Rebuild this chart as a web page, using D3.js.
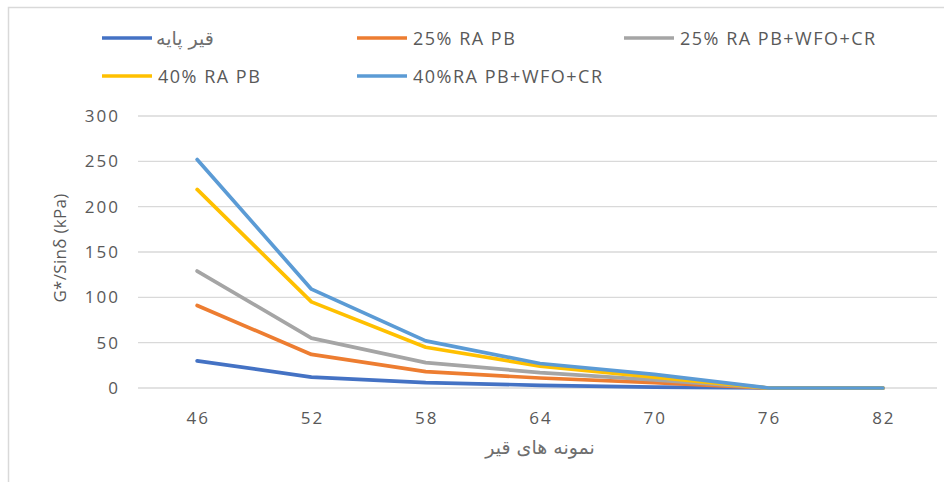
<!DOCTYPE html>
<html>
<head>
<meta charset="utf-8">
<script src="https://cdn.jsdelivr.net/npm/d3@7"></script>
<style>
    body { margin: 0; background: #fff; }
    text { font-family: "Open Sans", "Noto Sans", sans-serif; fill: #595959; }
    text.fa { font-family: "DejaVu Sans", sans-serif; fill: #6e6e6e; }
</style>
</head>
<body>
<svg id="chart" width="952" height="482"></svg>
<script>
const categories = ["46", "52", "58", "64", "70", "76", "82"];
const yTicks = [0, 50, 100, 150, 200, 250, 300];

const seriesNames = ["قیر پایه", "25% RA PB", "25% RA PB+WFO+CR", "40% RA PB", "40%RA PB+WFO+CR"];
const baseBinder = [30, 12, 6, 3, 1, 0, 0];
const rapb25 = [91, 37, 18, 11, 6, 0, 0];
const rapb25Mod = [129, 55, 28, 17, 9, 0, 0];
const rapb40 = [219, 95, 45, 24, 12, 0, 0];
const rapb40Mod = [252, 109, 52, 27, 15, 0, 0];

const colors = ["#4472C4", "#ED7D31", "#A5A5A5", "#FFC000", "#5B9BD5"];

const series = [baseBinder, rapb25, rapb25Mod, rapb40, rapb40Mod].map((values, i) => ({
    name: seriesNames[i],
    color: colors[i],
    values: values
}));

const isArabic = s => /[\u0600-\u06FF]/.test(s);

const svg = d3.select("#chart");

// light frame on the left and top
svg.append("path")
    .attr("d", "M8.5,482 V7.5 H944")
    .attr("fill", "none")
    .attr("stroke", "#d9d9d9")
    .attr("stroke-width", 1.5);

const x = d3.scalePoint().domain(categories).range([140, 940]).padding(0.5);
const y = d3.scaleLinear().domain([0, 300]).range([388, 116]);

// gridlines
svg.append("g")
    .selectAll("line")
    .data(yTicks)
    .enter()
    .append("line")
    .attr("x1", 138)
    .attr("x2", 937)
    .attr("y1", d => y(d))
    .attr("y2", d => y(d))
    .attr("stroke", "#d9d9d9")
    .attr("stroke-width", 1.3);

// y tick labels
svg.append("g")
    .selectAll("text")
    .data(yTicks)
    .enter()
    .append("text")
    .attr("x", 120)
    .attr("y", d => y(d) + 6)
    .attr("text-anchor", "end")
    .attr("font-size", 17)
    .attr("letter-spacing", 2)
    .text(d => d);

// x tick labels
svg.append("g")
    .selectAll("text")
    .data(categories)
    .enter()
    .append("text")
    .attr("x", d => x(d) + 1)
    .attr("y", 424)
    .attr("text-anchor", "middle")
    .attr("font-size", 17)
    .attr("letter-spacing", 2)
    .text(d => d);

// axis titles
svg.append("text")
    .attr("transform", "translate(66,248) rotate(-90)")
    .attr("text-anchor", "middle")
    .attr("font-size", 17)
    .attr("letter-spacing", 0.3)
    .text("G*/Sinδ (kPa)");

svg.append("text")
    .attr("class", "fa")
    .attr("x", 540)
    .attr("y", 454)
    .attr("text-anchor", "middle")
    .attr("font-size", 19)
    .text("نمونه های قیر");

// lines
const line = d3.line()
    .x((d, i) => x(categories[i]))
    .y(d => y(d));

svg.append("g")
    .selectAll("path")
    .data(series)
    .enter()
    .append("path")
    .attr("d", d => line(d.values))
    .attr("fill", "none")
    .attr("stroke", d => d.color)
    .attr("stroke-width", 3.7)
    .attr("stroke-linejoin", "round")
    .attr("stroke-linecap", "round");

// legend
const legendPos = [[102, 38], [357, 38], [624, 38], [102, 76], [357, 76]];

const legend = svg.append("g")
    .selectAll("g")
    .data(series)
    .enter()
    .append("g")
    .attr("transform", (d, i) => "translate(" + legendPos[i][0] + "," + legendPos[i][1] + ")");

legend.append("line")
    .attr("x1", 0)
    .attr("x2", 50)
    .attr("stroke", d => d.color)
    .attr("stroke-width", 3.7);

legend.append("text")
    .attr("class", d => isArabic(d.name) ? "fa" : null)
    .attr("x", d => isArabic(d.name) ? 54 : 56)
    .attr("y", 6.5)
    .attr("font-size", d => isArabic(d.name) ? 19 : 18)
    .attr("letter-spacing", d => isArabic(d.name) ? 0 : 1.5)
    .attr("direction", "ltr")
    .text(d => d.name);
</script>
</body>
</html>
